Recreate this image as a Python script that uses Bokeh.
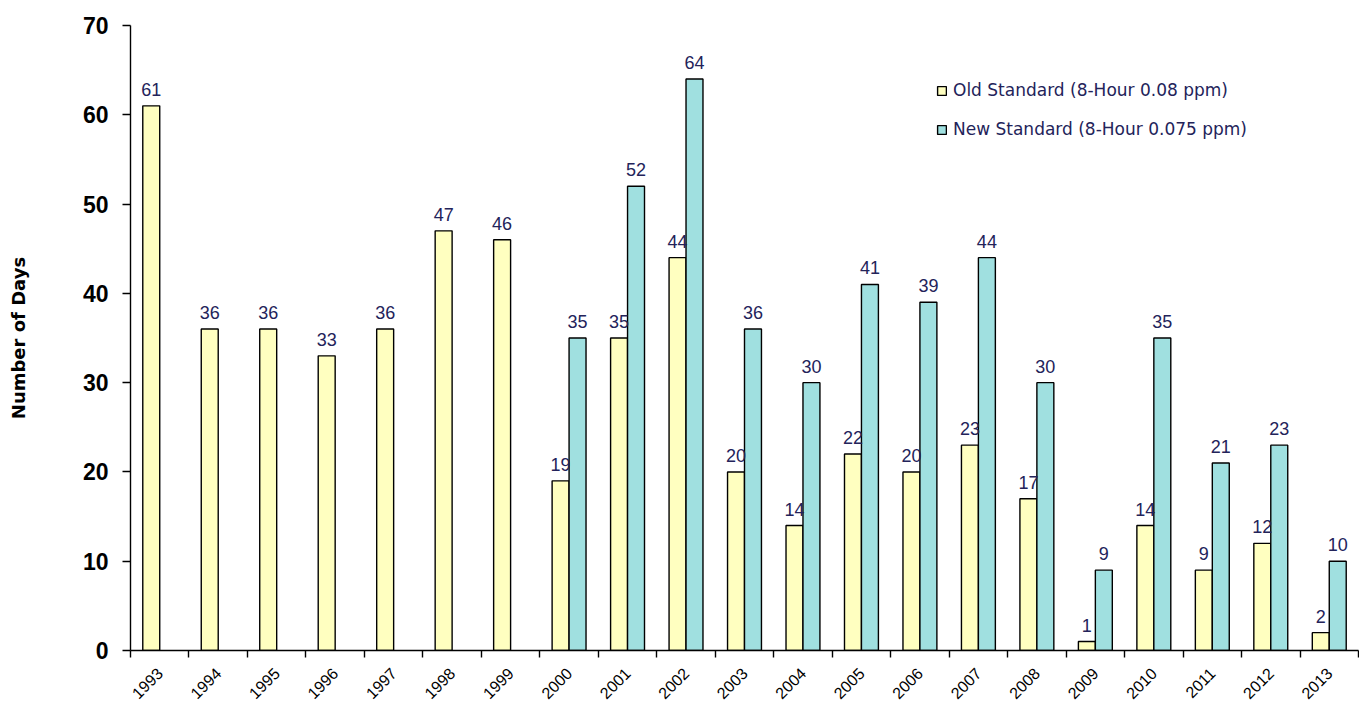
import math
from bokeh.plotting import figure
from bokeh.models import ColumnDataSource, FixedTicker, Range1d, Legend, LegendItem
from bokeh.transform import dodge
from bokeh.core.properties import value
from bokeh.embed import file_html
from bokeh.resources import INLINE

years = list(range(1993, 2014))
old_std = [61, 36, 36, 33, 36, 47, 46, 19, 35, 44, 20, 14, 22, 20, 23, 17, 1, 14, 9, 12, 2]
new_years = list(range(2000, 2014))
new_std = [35, 52, 64, 36, 30, 41, 39, 44, 30, 9, 35, 21, 23, 10]

old_label = "Old Standard (8-Hour 0.08 ppm)"
new_label = "New Standard (8-Hour 0.075 ppm)"

FONT = "Liberation Sans"
WFONT = "DejaVu Sans"
LBL_COLOR = "#23235a"
OLD_COLOR = "#ffffc0"
NEW_COLOR = "#a0e0e0"

src_old = ColumnDataSource(dict(x=years, y=old_std, t=[str(v) for v in old_std]))
src_new = ColumnDataSource(dict(x=new_years, y=new_std, t=[str(v) for v in new_std]))

p = figure(width=1359, height=709, output_backend="svg", toolbar_location=None,
           x_range=Range1d(1992.5, 2013.5), y_range=Range1d(0, 70),
           min_border_left=130, min_border_right=1, min_border_top=25, min_border_bottom=59)
p.outline_line_color = None
p.xgrid.grid_line_color = None
p.ygrid.grid_line_color = None
p.background_fill_color = "white"
p.border_fill_color = "white"

bw = 0.29
off = 0.145
r_old = p.vbar(x=dodge("x", -off), top="y", width=bw, source=src_old,
               fill_color=OLD_COLOR, line_color="black", line_width=1.4)
r_new = p.vbar(x=dodge("x", off), top="y", width=bw, source=src_new,
               fill_color=NEW_COLOR, line_color="black", line_width=1.4)

p.text(x=dodge("x", -off), y="y", text="t", source=src_old, text_align="center",
       text_baseline="bottom", y_offset=-10, text_font=value(FONT),
       text_font_size="18px", text_color=LBL_COLOR)
p.text(x=dodge("x", off), y="y", text="t", source=src_new, text_align="center",
       text_baseline="bottom", y_offset=-10, text_font=value(FONT),
       text_font_size="18px", text_color=LBL_COLOR)

# x axis
xa = p.xaxis[0]
xa.ticker = FixedTicker(ticks=years, minor_ticks=[y - 0.5 for y in years] + [2013.5])
xa.major_tick_out = 0
xa.major_tick_in = 0
xa.minor_tick_out = 7
xa.minor_tick_in = 0
xa.minor_tick_line_color = "black"
xa.axis_line_color = "black"
xa.axis_line_width = 1.4
xa.minor_tick_line_width = 1.4
xa.major_label_orientation = math.pi / 4
xa.major_label_text_font = FONT
xa.major_label_text_font_size = "16px"
xa.major_label_text_color = "black"
xa.major_label_standoff = 13

# y axis
ya = p.yaxis[0]
ya.ticker = FixedTicker(ticks=list(range(0, 71, 10)))
ya.major_tick_out = 8
ya.major_tick_in = 0
ya.minor_tick_line_color = None
ya.axis_line_color = "black"
ya.axis_line_width = 1.4
ya.major_tick_line_width = 1.4
ya.major_label_text_font = FONT
ya.major_label_text_font_size = "23px"
ya.major_label_text_font_style = "bold"
ya.major_label_text_color = "black"
ya.major_label_standoff = 14
ya.axis_label = "Number of Days"
ya.axis_label_text_font = WFONT
ya.axis_label_text_font_size = "18px"
ya.axis_label_text_font_style = "bold"
ya.axis_label_text_color = "black"
ya.axis_label_standoff = 51

legend = Legend(items=[LegendItem(label=old_label, renderers=[r_old]),
                       LegendItem(label=new_label, renderers=[r_new])],
                location=(806, 511))
legend.border_line_color = None
legend.background_fill_alpha = 0
legend.glyph_width = 11
legend.glyph_height = 11
legend.label_text_font = WFONT
legend.label_text_font_size = "17px"
legend.label_text_color = LBL_COLOR
legend.spacing = 19
legend.label_standoff = 6
legend.padding = 0
legend.margin = 0
p.add_layout(legend)

open("out.html", "w").write(file_html(p, INLINE))
